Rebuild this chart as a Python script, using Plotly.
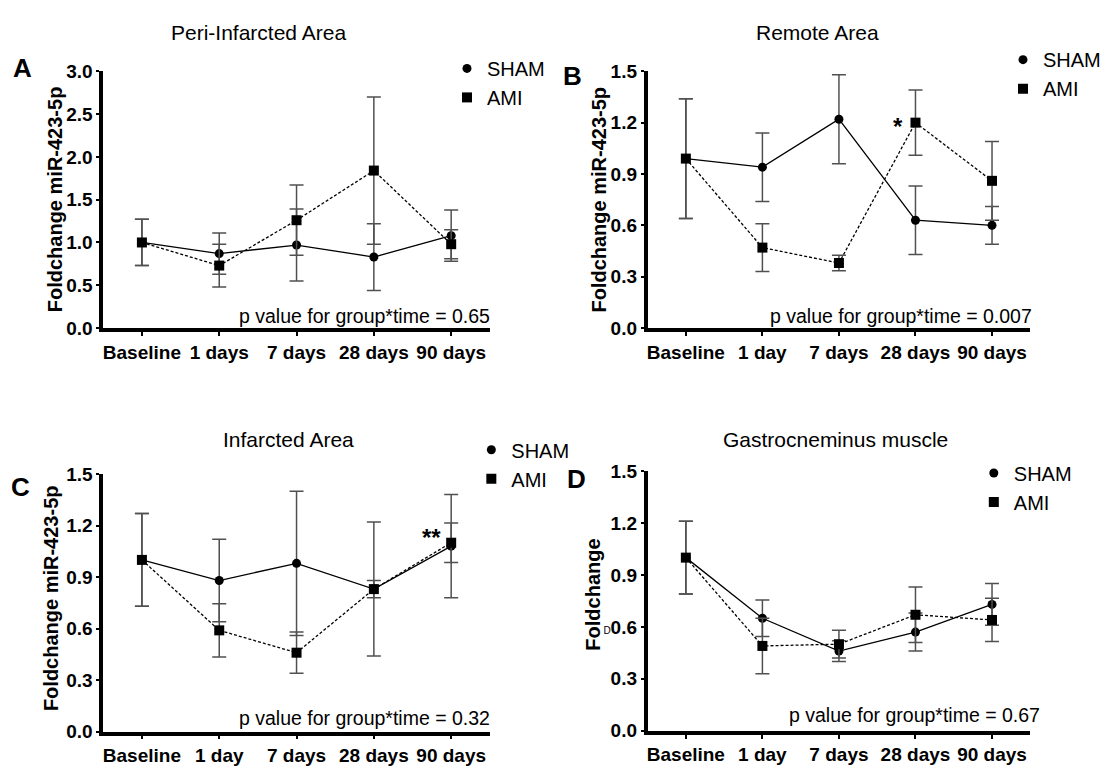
import plotly.graph_objects as go

# ---------------- data ----------------
cats_A = ["Baseline", "1 days", "7 days", "28 days", "90 days"]
cats = ["Baseline", "1 day", "7 days", "28 days", "90 days"]

A_sham = [1.00, 0.87, 0.97, 0.83, 1.08]
A_sham_err = [0.27, 0.24, 0.42, 0.39, 0.30]
A_ami = [1.00, 0.73, 1.26, 1.84, 0.98]
A_ami_err = [0.27, 0.25, 0.41, 0.86, 0.17]

B_sham = [0.99, 0.94, 1.22, 0.63, 0.60]
B_sham_err = [0.35, 0.20, 0.26, 0.20, 0.11]
B_ami = [0.99, 0.47, 0.38, 1.20, 0.86]
B_ami_err = [0.35, 0.14, 0.045, 0.19, 0.23]

C_sham = [1.00, 0.88, 0.98, 0.83, 1.08]
C_sham_err = [0.27, 0.24, 0.42, 0.39, 0.30]
C_ami = [1.00, 0.59, 0.46, 0.83, 1.10]
C_ami_err = [0.27, 0.155, 0.12, 0.05, 0.115]

D_sham = [1.00, 0.65, 0.46, 0.57, 0.73]
D_sham_err = [0.21, 0.105, 0.06, 0.11, 0.12]
D_ami = [1.00, 0.49, 0.50, 0.67, 0.64]
D_ami_err = [0.21, 0.16, 0.08, 0.16, 0.125]

titles = ["Peri-Infarcted Area", "Remote Area", "Infarcted Area", "Gastrocneminus muscle"]
letters = ["A", "B", "C", "D"]
pvals = ["p value for group*time = 0.65", "p value for group*time = 0.007",
         "p value for group*time = 0.32", "p value for group*time = 0.67"]
ytitles = ["Foldchange miR-423-5p", "Foldchange miR-423-5p", "Foldchange miR-423-5p", "Foldchange"]
yticks_A = [0.0, 0.5, 1.0, 1.5, 2.0, 2.5, 3.0]
yticktext_A = ["0.0", "0.5", "1.0", "1.5", "2.0", "2.5", "3.0"]
yticks = [0.0, 0.3, 0.6, 0.9, 1.2, 1.5]
yticktext = ["0.0", "0.3", "0.6", "0.9", "1.2", "1.5"]
# panel D shows a stray small "D" just before the 0.6 label
yticktext_D = ["0.0", "0.3",
               "<span style='font-size:10px;font-weight:normal'>D</span>0.6",
               "0.9", "1.2", "1.5"]

W, H = 1106, 769
FONT = "Arial, Liberation Sans, sans-serif"

panels = [
    dict(cats=cats_A, sham=A_sham, se=A_sham_err, ami=A_ami, ae=A_ami_err,
         px=(105, 502), py=(63, 327), yt=yticks_A, ytt=yticktext_A),
    dict(cats=cats, sham=B_sham, se=B_sham_err, ami=B_ami, ae=B_ami_err,
         px=(664, 1057), py=(63, 327), yt=yticks, ytt=yticktext),
    dict(cats=cats, sham=C_sham, se=C_sham_err, ami=C_ami, ae=C_ami_err,
         px=(105, 502), py=(477, 742), yt=yticks, ytt=yticktext),
    dict(cats=cats, sham=D_sham, se=D_sham_err, ami=D_ami, ae=D_ami_err,
         px=(664, 1057), py=(474, 741), yt=yticks, ytt=yticktext_D),
]

fig = go.Figure()
layout = dict(width=W, height=H, margin=dict(l=0, r=0, t=0, b=0),
              paper_bgcolor="white", plot_bgcolor="white", showlegend=True)

legend_pos = [(458, 40), (1029, 31), (483, 432), (999, 456)]

ERR_COLOR = "#505050"
annotations = []

for i, p in enumerate(panels):
    n = "" if i == 0 else str(i + 1)
    xa, ya = "x" + n, "y" + n
    lg = "legend" + n
    for name, vals, errs, sym, dash, msize in [
        ("SHAM", p["sham"], p["se"], "circle", "solid", 9),
        ("AMI", p["ami"], p["ae"], "square", "3px,2px", 10),
    ]:
        fig.add_trace(go.Scatter(x=p["cats"], y=vals, mode="lines", xaxis=xa, yaxis=ya,
                                 line=dict(color="black", width=1.3, dash=dash),
                                 showlegend=False, hoverinfo="skip", cliponaxis=False))
        fig.add_trace(go.Scatter(x=p["cats"], y=vals, mode="markers", name=name,
                                 xaxis=xa, yaxis=ya, legend=lg, legendgroup=name + n,
                                 marker=dict(symbol=sym, size=msize, color="black"),
                                 error_y=dict(type="data", array=errs, visible=True,
                                              color=ERR_COLOR, thickness=1.5, width=7),
                                 cliponaxis=False))
    x0, x1 = p["px"]
    y0, y1 = p["py"]
    layout["xaxis" + n] = dict(
        domain=[x0 / W, x1 / W], anchor=ya, type="category", range=[-0.5, 4.5],
        showline=True, linewidth=3.5, linecolor="black", mirror=False,
        ticks="outside", ticklen=4, tickwidth=2, tickcolor="black",
        showgrid=False, zeroline=False, fixedrange=True,
        tickfont=dict(family=FONT, size=19, color="black", weight="bold"))
    layout["yaxis" + n] = dict(
        domain=[1 - y1 / H, 1 - y0 / H], anchor=xa, range=[0, p["yt"][-1]],
        tickmode="array", tickvals=p["yt"], ticktext=p["ytt"],
        showline=True, linewidth=3.5, linecolor="black",
        ticks="outside", ticklen=3, tickwidth=2, tickcolor="black",
        showgrid=False, zeroline=False, fixedrange=True,
        tickfont=dict(family=FONT, size=19, color="black", weight="bold"))
    lx, ly = legend_pos[i]
    layout[lg] = dict(x=lx / W, y=1 - ly / H, xanchor="left", yanchor="top",
                      bgcolor="rgba(0,0,0,0)", borderwidth=0, tracegroupgap=0,
                      itemwidth=30, font=dict(family=FONT, size=20, color="black"))

# titles
title_pos = [(264, 23), (838, 23), (295, 442), (857, 442)]
for t, (tx, ty) in zip(titles, title_pos):
    annotations.append(dict(text=t, x=tx / W, y=1 - ty / H, xref="paper", yref="paper",
                            showarrow=False, xanchor="center", yanchor="middle",
                            font=dict(family=FONT, size=21, color="black")))
# panel letters
letter_pos = [(22, 60), (587, 68), (20, 490), (591, 482)]
for t, (tx, ty) in zip(letters, letter_pos):
    annotations.append(dict(text=t, x=tx / W, y=1 - ty / H, xref="paper", yref="paper",
                            showarrow=False, xanchor="center", yanchor="middle",
                            font=dict(family=FONT, size=26, color="black", weight="bold")))
# y titles
ytitle_pos = [(55, 195), (614, 195), (52, 605), (608, 601)]
for t, (tx, ty) in zip(ytitles, ytitle_pos):
    annotations.append(dict(text=t, x=tx / W, y=1 - ty / H, xref="paper", yref="paper",
                            showarrow=False, textangle=-90, xanchor="center", yanchor="middle",
                            font=dict(family=FONT, size=20, color="black", weight="bold")))
# p values
pval_pos = [(504, 315), (1061, 315), (504, 728), (1069, 725)]
for t, (tx, ty) in zip(pvals, pval_pos):
    annotations.append(dict(text=t, x=tx / W, y=1 - ty / H, xref="paper", yref="paper",
                            showarrow=False, xanchor="right", yanchor="middle",
                            font=dict(family=FONT, size=19.5, color="black")))
# significance stars
annotations.append(dict(text="*", x="28 days", y=1.18, xref="x2", yref="y2", xshift=-17,
                        showarrow=False, font=dict(family=FONT, size=24, color="black", weight="bold")))
annotations.append(dict(text="**", x="90 days", y=1.13, xref="x3", yref="y3", xshift=-20,
                        showarrow=False, font=dict(family=FONT, size=24, color="black", weight="bold")))

layout["annotations"] = annotations
fig.update_layout(**layout)
fig.write_html("out.html")
